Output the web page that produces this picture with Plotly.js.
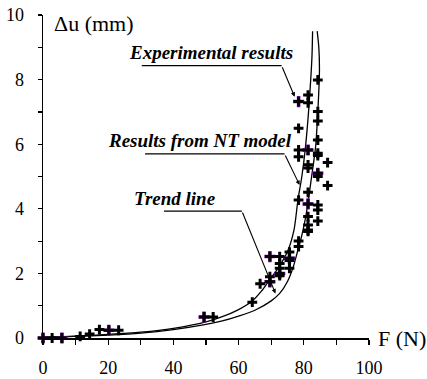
<!DOCTYPE html>
<html><head><meta charset="utf-8">
<script src="https://cdn.plot.ly/plotly-3.0.1.min.js"></script>
<style>html,body{margin:0;padding:0;background:#fff}</style>
</head><body><div id="chart" style="width:427px;height:379px"></div>
<script>
// Experimental results (black crosses)
const expF = [-3.2,0,2.8,5.8,11.4,14.3,17.3,20.2,23.2,49.4,52.2,64.2,66.6,69.6,69.6,69.6,72.6,72.6,72.6,72.6,72.6,75.6,75.6,75.6,75.6,78.4,78.4,78.4,78.4,78.4,78.4,78.4,81.3,81.3,81.3,81.3,81.3,81.3,81.3,81.3,81.3,81.3,81.3,84.3,84.3,84.3,84.3,84.3,84.3,84.3,84.3,84.3,84.3,84.3,87.3,87.3];
const expU = [0,0,0,0,0.05,0.12,0.26,0.24,0.24,0.65,0.65,1.11,1.68,1.90,1.74,2.52,2.52,2.31,2.16,2.00,1.93,2.66,2.47,2.40,2.16,3.00,2.83,4.27,5.61,5.82,6.49,7.32,7.52,7.28,5.82,5.36,5.26,4.51,4.15,3.76,3.50,3.34,3.30,7.99,7.01,6.72,6.13,5.72,5.65,5.10,5.00,4.12,3.96,3.62,5.43,4.72];
// Highlighted (purple) experimental points
const purF = [0,5.8,20.2,49.4,69.6,69.6,72.6,75.6,78.4,81.3,81.3,84.3];
const purU = [0,0,0.24,0.65,1.74,2.52,2.00,2.47,7.32,5.82,4.15,5.10];
// Results from NT model
const ntF = [0,10,20,30,40,50,55,60,63.9,67,69.5,72.5,75.1,77.0,78.2,79.4,80.4,81.3,82.0,82.5,82.7];
const ntU = [0.03,0.06,0.11,0.18,0.30,0.50,0.66,0.88,1.12,1.45,1.80,2.22,2.70,3.35,4.27,5.00,5.80,6.80,7.80,8.70,9.50];
// Trend line
const trF = [0,10,20,30,40,50,55,60,65,70,72.6,75,76.6,78,79.3,80.5,81.3,82.4,83.6,84.4,84.8,84.6,84.1];
const trU = [0.02,0.05,0.09,0.15,0.26,0.42,0.53,0.68,0.86,1.15,1.38,1.75,2.15,2.65,3.14,3.70,4.20,5.00,5.90,7.20,8.30,9.00,9.50];
// Ticks
const xTickVals = [0,10,20,30,40,50,60,70,80,90,100];
const xTickText = ['0','','20','','40','','60','','80','','100'];
const yTickVals = [0,1,2,3,4,5,6,7,8,9,10];
const yTickText = ['0','','2','','4','','6','','8','','10'];

const serif = 'Liberation Serif';
const traces = [
  {x: ntF, y: ntU, mode:'lines', line:{color:'#000', width:1.3, shape:'spline', smoothing:0.8}, cliponaxis:false, hoverinfo:'skip'},
  {x: trF, y: trU, mode:'lines', line:{color:'#000', width:1.3, shape:'spline', smoothing:0.8}, cliponaxis:false, hoverinfo:'skip'},
  {x: purF, y: purU, mode:'markers', cliponaxis:false,
   marker:{symbol:'cross-thin-open', size:8, color:'#8a10c0', line:{color:'#8a10c0', width:3.5}}},
  {x: expF, y: expU, mode:'markers', cliponaxis:false,
   marker:{symbol:'cross-thin-open', size:7, color:'#000', line:{color:'#000', width:3}}}
];
const annFont = {family: serif, size: 19, color:'#000', style:'italic', weight:'bold'};
const layout = {
  width:427, height:379,
  margin:{l:43, r:58, t:15, b:41},
  showlegend:false,
  paper_bgcolor:'#fff', plot_bgcolor:'#fff',
  font:{family: serif, color:'#000'},
  xaxis:{range:[0,100], showgrid:false, zeroline:false, showline:true, linecolor:'#000', linewidth:1.5,
         tickmode:'array', tickvals:xTickVals, ticktext:xTickText, ticks:'outside', ticklen:5, tickwidth:1.2, tickcolor:'#000',
         tickfont:{family: serif, size:18, color:'#000'}, ticklabelstandoff:8},
  yaxis:{range:[0,10], showgrid:false, zeroline:false, showline:true, linecolor:'#000', linewidth:1.5,
         tickmode:'array', tickvals:yTickVals, ticktext:yTickText, ticks:'outside', ticklen:4, tickwidth:1.2, tickcolor:'#000',
         tickfont:{family: serif, size:18, color:'#000'}, ticklabelstandoff:10},
  shapes:[
    {type:'line', xref:'x', yref:'y', x0:30.3, x1:73.2, y0:8.43, y1:8.43, line:{color:'#000', width:1.2}},
    {type:'line', xref:'x', yref:'y', x0:31.3, x1:74.1, y0:5.70, y1:5.70, line:{color:'#000', width:1.2}},
    {type:'line', xref:'x', yref:'y', x0:37.1, x1:61.0, y0:3.93, y1:3.93, line:{color:'#000', width:1.2}}
  ],
  annotations:[
    {xref:'x', yref:'y', x:2.7, y:9.75, xanchor:'left', yanchor:'middle', showarrow:false, text:'Δu (mm)', font:{family: serif, size:22, color:'#000'}},
    {xref:'paper', yref:'paper', x:1.022, y:-0.003, xanchor:'left', yanchor:'middle', showarrow:false, text:'F (N)', font:{family: serif, size:22, color:'#000'}},
    {xref:'x', yref:'y', x:51.5, y:8.85, showarrow:false, text:'Experimental results', font:annFont},
    {xref:'x', yref:'y', x:48.2, y:6.13, showarrow:false, text:'Results from NT model', font:annFont},
    {xref:'x', yref:'y', x:40.5, y:4.33, showarrow:false, text:'Trend line', font:annFont},
    {xref:'x', yref:'y', x:77.2, y:7.47, axref:'x', ayref:'y', ax:73.2, ay:8.43, text:'', showarrow:true, arrowhead:2, arrowsize:0.8, arrowwidth:1.1, arrowcolor:'#000', standoff:0},
    {xref:'x', yref:'y', x:78.7, y:4.74, axref:'x', ayref:'y', ax:74.1, ay:5.70, text:'', showarrow:true, arrowhead:2, arrowsize:0.8, arrowwidth:1.1, arrowcolor:'#000', standoff:0},
    {xref:'x', yref:'y', x:71.3, y:1.38, axref:'x', ayref:'y', ax:61.0, ay:3.93, text:'', showarrow:true, arrowhead:2, arrowsize:0.8, arrowwidth:1.1, arrowcolor:'#000', standoff:0}
  ]
};
Plotly.newPlot('chart', traces, layout, {staticPlot:true, displayModeBar:false});
</script></body></html>
